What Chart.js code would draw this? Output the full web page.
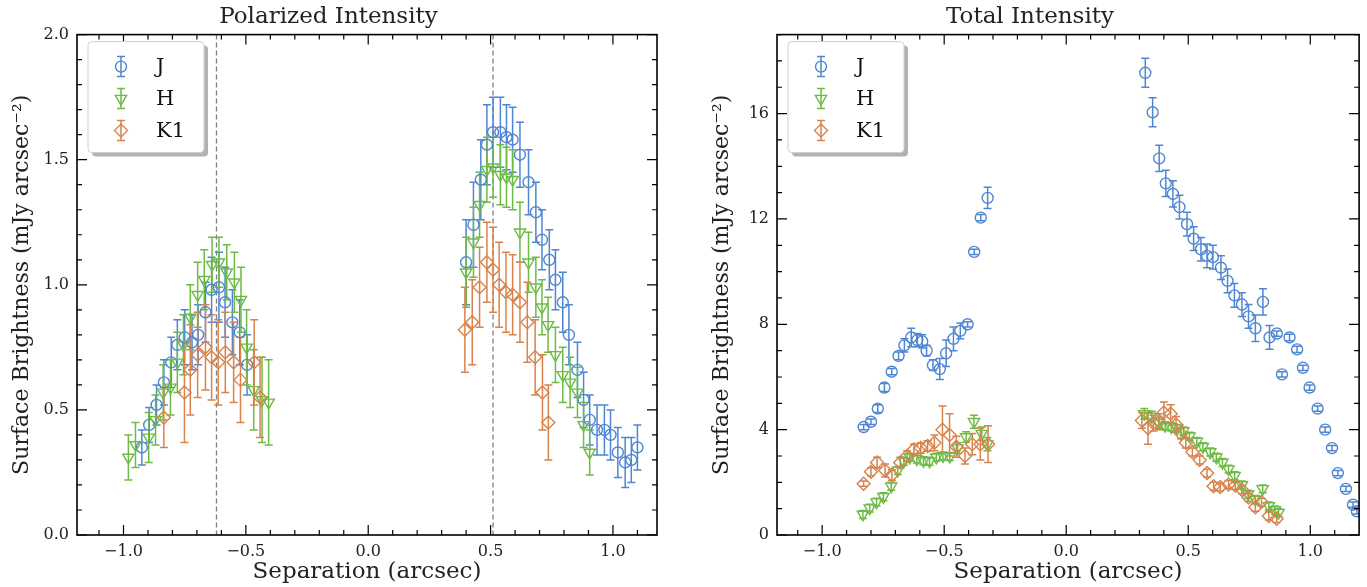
<!DOCTYPE html>
<html>
<head>
<meta charset="utf-8">
<script src="https://cdn.jsdelivr.net/npm/chart.js@4.4.0/dist/chart.umd.min.js"></script>
<style>
  html, body { margin: 0; padding: 0; background: #fff; }
  #wrap { position: relative; width: 1367px; height: 587px; }
  #left { position: absolute; left: 0; top: 0; }
  #right { position: absolute; left: 700px; top: 0; }
</style>
</head>
<body>
<div id="wrap">
  <canvas id="left" width="683" height="587"></canvas>
  <canvas id="right" width="667" height="587"></canvas>
</div>
<script>
// ---- Polarized intensity ----
const piJx = [-0.925,-0.895,-0.865,-0.835,-0.805,-0.78,-0.75,-0.72,-0.695,-0.665,-0.64,-0.61,-0.585,-0.555,-0.525,-0.495,
  0.40,0.43,0.46,0.485,0.51,0.54,0.565,0.59,0.62,0.655,0.685,0.71,0.74,0.765,0.795,0.82,0.855,0.88,0.905,0.935,0.965,0.99,1.02,1.05,1.075,1.10];
const piJy = [0.35,0.44,0.52,0.61,0.69,0.76,0.79,0.77,0.80,0.89,0.98,0.99,0.93,0.85,0.81,0.68,
  1.09,1.24,1.42,1.56,1.61,1.61,1.59,1.58,1.52,1.41,1.29,1.18,1.10,1.02,0.93,0.80,0.66,0.54,0.46,0.42,0.42,0.40,0.33,0.29,0.30,0.35];
const piJerr = [0.07,0.07,0.08,0.09,0.10,0.10,0.11,0.11,0.12,0.12,0.13,0.14,0.14,0.13,0.13,0.12,
  0.17,0.17,0.16,0.16,0.14,0.14,0.13,0.13,0.13,0.13,0.12,0.12,0.12,0.12,0.12,0.12,0.11,0.11,0.10,0.10,0.10,0.10,0.10,0.10,0.09,0.09];

const piHx = [-0.98,-0.951,-0.897,-0.869,-0.838,-0.808,-0.78,-0.755,-0.727,-0.697,-0.67,-0.638,-0.61,-0.578,-0.547,-0.52,-0.497,-0.468,-0.434,-0.407,
  0.40,0.43,0.455,0.485,0.51,0.54,0.565,0.59,0.62,0.655,0.685,0.71,0.735,0.765,0.795,0.825,0.855,0.88,0.905];
const piHy = [0.31,0.36,0.39,0.46,0.57,0.59,0.69,0.76,0.87,0.96,1.02,1.08,1.09,1.05,1.01,0.94,0.75,0.58,0.54,0.53,
  1.05,1.17,1.32,1.46,1.47,1.44,1.43,1.42,1.21,1.09,0.99,0.91,0.84,0.72,0.64,0.61,0.57,0.44,0.33];
const piHerr = [0.09,0.09,0.10,0.10,0.11,0.11,0.12,0.12,0.13,0.13,0.12,0.11,0.10,0.11,0.12,0.13,0.15,0.16,0.17,0.17,
  0.14,0.14,0.13,0.13,0.12,0.12,0.12,0.12,0.12,0.12,0.12,0.11,0.11,0.11,0.11,0.10,0.10,0.09,0.09];

const piKx = [-0.835,-0.751,-0.727,-0.697,-0.665,-0.64,-0.613,-0.584,-0.55,-0.522,-0.466,-0.442,
  0.395,0.425,0.455,0.485,0.51,0.535,0.563,0.59,0.62,0.65,0.682,0.712,0.736];
const piKy = [0.47,0.57,0.66,0.72,0.75,0.71,0.69,0.73,0.69,0.62,0.69,0.55,
  0.82,0.85,0.99,1.09,1.06,1.00,0.97,0.96,0.93,0.85,0.71,0.57,0.45];
const piKerr = [0.12,0.20,0.18,0.17,0.17,0.17,0.17,0.16,0.16,0.17,0.17,0.16,
  0.17,0.17,0.16,0.16,0.17,0.17,0.16,0.16,0.16,0.16,0.15,0.15,0.15];

// ---- Total intensity ----
const tiJx = [-0.83,-0.80,-0.772,-0.745,-0.715,-0.687,-0.663,-0.635,-0.61,-0.59,-0.572,-0.546,-0.518,-0.492,-0.462,-0.434,-0.404,-0.377,-0.35,-0.322,
  0.324,0.354,0.381,0.408,0.437,0.464,0.495,0.522,0.552,0.577,0.601,0.634,0.661,0.689,0.72,0.747,0.775,0.806,0.833,0.863,0.884,0.915,0.946,0.97,0.997,1.03,1.061,1.089,1.113,1.146,1.175,1.191];
const tiJy = [4.1,4.3,4.8,5.6,6.2,6.8,7.2,7.5,7.4,7.35,7.0,6.45,6.3,6.9,7.45,7.75,8.0,10.75,12.05,12.8,
  17.55,16.05,14.3,13.35,12.95,12.45,11.8,11.25,10.85,10.6,10.55,10.15,9.65,9.1,8.75,8.3,7.85,8.85,7.5,7.65,6.1,7.5,7.05,6.35,5.6,4.8,4.0,3.3,2.35,1.75,1.15,0.9];
const tiJerr = [0.1,0.1,0.15,0.15,0.12,0.15,0.25,0.35,0.25,0.25,0.2,0.2,0.4,0.5,0.45,0.3,0.1,0.1,0.12,0.4,
  0.55,0.55,0.5,0.5,0.5,0.45,0.45,0.45,0.45,0.45,0.45,0.45,0.45,0.45,0.45,0.45,0.5,0.5,0.45,0.1,0.1,0.12,0.12,0.1,0.1,0.1,0.1,0.1,0.1,0.1,0.1,0.1];

const tiHx = [-0.833,-0.805,-0.777,-0.749,-0.717,-0.69,-0.665,-0.641,-0.612,-0.585,-0.56,-0.532,-0.505,-0.477,-0.445,-0.41,-0.378,-0.346,-0.323,
  0.32,0.35,0.38,0.405,0.43,0.455,0.48,0.505,0.535,0.56,0.59,0.615,0.64,0.665,0.69,0.72,0.745,0.775,0.805,0.83,0.855,0.87];
const tiHy = [0.78,1.02,1.25,1.45,1.85,2.45,2.8,2.95,2.88,2.82,2.8,2.95,3.0,2.98,3.3,3.72,4.3,3.85,3.45,
  4.6,4.5,4.25,4.15,4.1,4.05,3.95,3.75,3.55,3.35,3.15,2.95,2.75,2.5,2.25,1.9,1.55,1.35,1.75,1.1,0.95,0.85];
const tiHerr = [0.15,0.15,0.15,0.15,0.15,0.15,0.15,0.15,0.15,0.15,0.15,0.15,0.15,0.15,0.2,0.2,0.25,0.25,0.25,
  0.2,0.2,0.2,0.15,0.15,0.15,0.15,0.15,0.15,0.15,0.15,0.15,0.15,0.15,0.15,0.15,0.15,0.15,0.15,0.15,0.15,0.15];

const tiKx = [-0.83,-0.80,-0.775,-0.742,-0.714,-0.68,-0.652,-0.624,-0.596,-0.568,-0.54,-0.507,-0.478,-0.45,-0.415,-0.385,-0.352,-0.32,
  0.31,0.335,0.357,0.38,0.40,0.428,0.45,0.47,0.49,0.517,0.547,0.577,0.604,0.631,0.665,0.693,0.72,0.747,0.775,0.80,0.83,0.862];
const tiKy = [1.95,2.4,2.75,2.45,2.28,2.75,3.0,3.25,3.3,3.38,3.5,4.0,3.8,3.35,3.0,3.45,3.45,3.45,
  4.35,4.05,4.25,4.3,4.65,4.6,4.2,3.85,3.5,3.15,2.85,2.35,1.85,1.82,1.92,1.88,1.72,1.42,1.05,1.25,0.72,0.62];
const tiKerr = [0.1,0.15,0.2,0.25,0.2,0.2,0.2,0.2,0.2,0.2,0.3,0.9,0.8,0.4,0.3,0.4,0.6,0.7,
  0.3,0.6,0.3,0.3,0.4,0.35,0.3,0.2,0.2,0.15,0.15,0.15,0.15,0.15,0.15,0.15,0.15,0.15,0.15,0.15,0.15,0.15];

// axes / labels
const bandNames = ["J", "H", "K1"];
const sepTicks = [-1.0, -0.5, 0.0, 0.5, 1.0];
const piTicks = [0.0, 0.5, 1.0, 1.5, 2.0];
const tiTicks = [0, 4, 8, 12, 16];
const diskEdges = [-0.62, 0.51];

const colors = ["#4f86d1", "#6dbb45", "#d8834b"];
const styles = [
  { pointStyle: "circle", radius: 5.5, rotation: 0 },
  { pointStyle: "triangle", radius: 6.5, rotation: 180 },
  { pointStyle: "rectRot", radius: 6.5, rotation: 0 }
];
const FONT = "'DejaVu Serif', serif";
const INK = "#222";

function pts(xs, ys) {
  return xs.map((x, i) => ({ x: x, y: ys[i] }));
}

function makeSets(xsList, ysList, errList) {
  return xsList.map((xs, k) => ({
    label: bandNames[k],
    data: pts(xs, ysList[k]),
    errors: errList[k],
    showLine: false,
    borderColor: colors[k],
    backgroundColor: "rgba(0,0,0,0)",
    borderWidth: 1.4,
    pointStyle: styles[k].pointStyle,
    pointRadius: styles[k].radius,
    pointRotation: styles[k].rotation,
    order: 2 - k
  }));
}

// vertical error bars, drawn through the scales
const errorBars = {
  id: "errorBars",
  beforeDatasetsDraw(chart) {
    const { ctx, chartArea: a } = chart;
    const xs = chart.scales.x, ys = chart.scales.y;
    ctx.save();
    ctx.beginPath();
    ctx.rect(a.left, a.top, a.right - a.left, a.bottom - a.top);
    ctx.clip();
    chart.data.datasets.forEach(ds => {
      ctx.strokeStyle = ds.borderColor;
      ctx.lineWidth = 1.5;
      ds.data.forEach((p, i) => {
        const e = ds.errors[i];
        const px = xs.getPixelForValue(p.x);
        const y1 = ys.getPixelForValue(p.y - e);
        const y2 = ys.getPixelForValue(p.y + e);
        ctx.beginPath();
        ctx.moveTo(px, y1); ctx.lineTo(px, y2);
        ctx.moveTo(px - 4, y1); ctx.lineTo(px + 4, y1);
        ctx.moveTo(px - 4, y2); ctx.lineTo(px + 4, y2);
        ctx.stroke();
      });
    });
    ctx.restore();
  }
};

// dashed guide lines (left panel only)
const guides = {
  id: "guides",
  beforeDatasetsDraw(chart, args, opts) {
    if (!opts.values) return;
    const { ctx, chartArea: a } = chart;
    ctx.save();
    ctx.strokeStyle = "#808080";
    ctx.lineWidth = 1.3;
    ctx.setLineDash([5, 3]);
    opts.values.forEach(v => {
      const px = chart.scales.x.getPixelForValue(v);
      ctx.beginPath();
      ctx.moveTo(px, a.top);
      ctx.lineTo(px, a.bottom);
      ctx.stroke();
    });
    ctx.restore();
  }
};

// box frame + inward ticks on all sides
const frame = {
  id: "frame",
  afterDraw(chart, args, opts) {
    const { ctx, chartArea: a } = chart;
    const xs = chart.scales.x, ys = chart.scales.y;
    ctx.save();
    ctx.strokeStyle = "#000";
    ctx.lineWidth = 1.2;
    for (let k = -11; k <= 11; k++) {
      const v = k / 10;
      const len = k % 5 === 0 ? 10 : 5;
      const px = xs.getPixelForValue(v);
      if (px < a.left || px > a.right) continue;
      ctx.beginPath();
      ctx.moveTo(px, a.bottom); ctx.lineTo(px, a.bottom - len);
      ctx.moveTo(px, a.top); ctx.lineTo(px, a.top + len);
      ctx.stroke();
    }
    for (let k = 0; k <= opts.yCount; k++) {
      const v = k * opts.yMinor;
      const len = k % opts.yEvery === 0 ? 10 : 5;
      const py = ys.getPixelForValue(v);
      if (py < a.top - 0.5 || py > a.bottom + 0.5) continue;
      ctx.beginPath();
      ctx.moveTo(a.left, py); ctx.lineTo(a.left + len, py);
      ctx.moveTo(a.right, py); ctx.lineTo(a.right - len, py);
      ctx.stroke();
    }
    ctx.lineWidth = 1.6;
    ctx.strokeRect(a.left, a.top, a.right - a.left, a.bottom - a.top);
    ctx.restore();
  }
};

// matplotlib-like legend box with errorbar markers
const legendBox = {
  id: "legendBox",
  afterDraw(chart) {
    const { ctx, chartArea: a } = chart;
    const bx = a.left + 11, by = a.top + 7, bw = 116, bh = 111;
    ctx.save();
    ctx.fillStyle = "rgba(0,0,0,0.3)";
    roundRect(ctx, bx + 4, by + 4, bw, bh, 4);
    ctx.fill();
    ctx.fillStyle = "#fff";
    ctx.strokeStyle = "#cfcfcf";
    ctx.lineWidth = 1;
    roundRect(ctx, bx, by, bw, bh, 4);
    ctx.fill();
    ctx.stroke();
    chart.data.datasets.forEach((ds, k) => {
      const mx = bx + 33, my = by + 25 + k * 32;
      ctx.strokeStyle = ds.borderColor;
      ctx.lineWidth = 1.5;
      ctx.beginPath();
      ctx.moveTo(mx, my - 10); ctx.lineTo(mx, my + 10);
      ctx.moveTo(mx - 4, my - 10); ctx.lineTo(mx + 4, my - 10);
      ctx.moveTo(mx - 4, my + 10); ctx.lineTo(mx + 4, my + 10);
      ctx.stroke();
      ctx.lineWidth = 1.4;
      ctx.fillStyle = "rgba(0,0,0,0)";
      Chart.helpers.drawPoint(ctx, {
        pointStyle: styles[k].pointStyle,
        radius: styles[k].radius,
        rotation: styles[k].rotation,
        borderWidth: 1.4
      }, mx, my);
      ctx.fillStyle = "#111";
      ctx.font = "21px " + FONT;
      ctx.textBaseline = "middle";
      ctx.textAlign = "left";
      ctx.fillText(ds.label, bx + 68, my + 1);
    });
    ctx.restore();
  }
};

function roundRect(ctx, x, y, w, h, r) {
  ctx.beginPath();
  ctx.moveTo(x + r, y);
  ctx.lineTo(x + w - r, y);
  ctx.quadraticCurveTo(x + w, y, x + w, y + r);
  ctx.lineTo(x + w, y + h - r);
  ctx.quadraticCurveTo(x + w, y + h, x + w - r, y + h);
  ctx.lineTo(x + r, y + h);
  ctx.quadraticCurveTo(x, y + h, x, y + h - r);
  ctx.lineTo(x, y + r);
  ctx.quadraticCurveTo(x, y, x + r, y);
  ctx.closePath();
}

function fmt(v, digits) {
  return v.toFixed(digits).replace("-", "\u2212");
}

function makeChart(id, o) {
  return new Chart(document.getElementById(id), {
    type: "scatter",
    data: { datasets: o.datasets },
    options: {
      responsive: false,
      animation: false,
      layout: { padding: { left: 0, right: o.padRight, top: 0, bottom: 0 } },
      plugins: {
        legend: { display: false },
        tooltip: { enabled: false },
        title: {
          display: true,
          text: o.title,
          color: INK,
          font: { family: FONT, size: 23, weight: "normal", lineHeight: 1.2 },
          padding: { top: 3, bottom: 4 }
        },
        guides: { values: o.guides },
        frame: o.frame
      },
      scales: {
        x: {
          type: "linear",
          min: o.xMin, max: o.xMax,
          grid: { display: false, drawTicks: false },
          border: { display: false },
          afterBuildTicks: s => { s.ticks = sepTicks.map(v => ({ value: v })); },
          afterFit: s => { s.height = 52; },
          ticks: {
            color: INK, padding: 7,
            font: { family: FONT, size: 16 },
            callback: v => fmt(v, 1)
          },
          title: {
            display: true, text: "Separation (arcsec)", color: INK,
            font: { family: FONT, size: 23, lineHeight: 1.2 },
            padding: { top: 0, bottom: 1 }
          }
        },
        y: {
          type: "linear",
          min: 0, max: o.yMax,
          grid: { display: false, drawTicks: false },
          border: { display: false },
          afterBuildTicks: s => { s.ticks = o.yTicks.map(v => ({ value: v })); },
          afterFit: s => { s.width = 77; },
          ticks: {
            color: INK, padding: 8,
            font: { family: FONT, size: 16 },
            callback: v => fmt(v, o.yDigits)
          },
          title: {
            display: true, text: "Surface Brightness (mJy arcsec\u207B\u00B2)", color: INK,
            font: { family: FONT, size: 22, lineHeight: 1.2 },
            padding: { top: 9, bottom: 0 }
          }
        }
      }
    },
    plugins: [guides, errorBars, frame, legendBox]
  });
}

makeChart("left", {
  title: "Polarized Intensity",
  datasets: makeSets([piJx, piHx, piKx], [piJy, piHy, piKy], [piJerr, piHerr, piKerr]),
  xMin: -1.19, xMax: 1.18,
  yMax: 2.0, yTicks: piTicks, yDigits: 1,
  padRight: 26,
  guides: diskEdges,
  frame: { yCount: 20, yMinor: 0.1, yEvery: 5 }
});

makeChart("right", {
  title: "Total Intensity",
  datasets: makeSets([tiJx, tiHx, tiKx], [tiJy, tiHy, tiKy], [tiJerr, tiHerr, tiKerr]),
  xMin: -1.185, xMax: 1.2,
  yMax: 19, yTicks: tiTicks, yDigits: 0,
  padRight: 7,
  guides: null,
  frame: { yCount: 19, yMinor: 1, yEvery: 4 }
});
</script>
</body>
</html>
